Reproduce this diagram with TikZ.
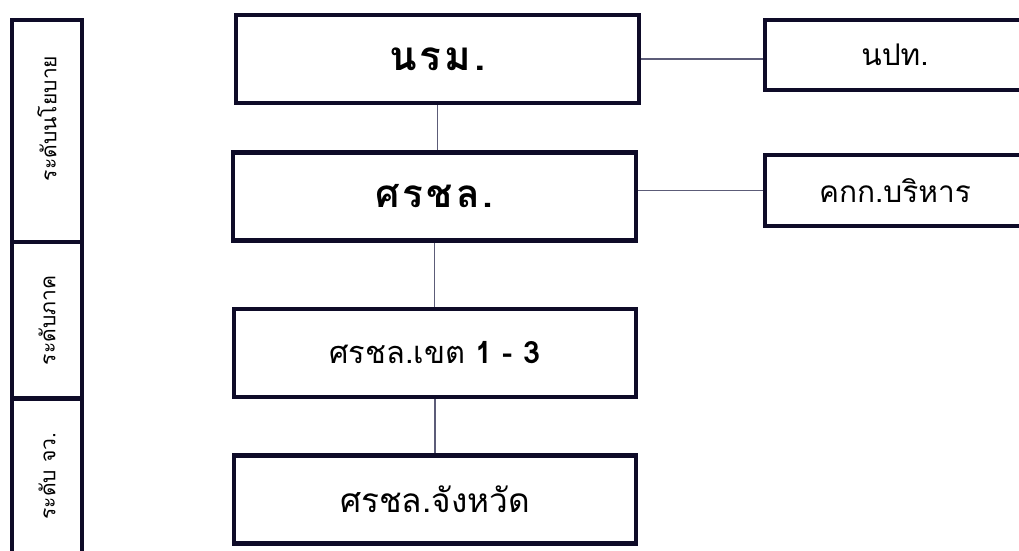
\documentclass[tikz,border=0pt]{standalone}
\usepackage{fontspec}
\newfontfamily\thaifont[Script=Thai]{Loma}
\newfontfamily\thaiwide[Script=Thai,LetterSpace=8]{Loma}
\definecolor{boxline}{HTML}{0E0B28}
\definecolor{linkline}{HTML}{5C5C78}

\begin{document}
\begin{tikzpicture}[x=0.02cm,y=-0.02cm,
  unit/.style={draw=boxline,line width=2.3pt,fill=white,minimum width=8.06cm,minimum height=1.76cm,inner sep=0pt},
  side/.style={draw=boxline,line width=2.3pt,fill=white,minimum width=5.2cm,minimum height=1.41cm,inner sep=0pt,font=\thaifont\fontsize{17}{20}\selectfont},
  level/.style={draw=boxline,line width=2.3pt,rotate=90,minimum height=1.4cm,inner sep=0pt,font=\thaifont\fontsize{12}{15}\selectfont},
  link/.style={draw=linkline,line width=0.6pt}]
\useasboundingbox (0,0) rectangle (1019,551);
\clip (0,0) rectangle (1019,551);
\fill[white] (0,0) rectangle (1019,551);

% levels
\node[level,minimum width=4.44cm] (policy) at (47,131) {\hspace*{0.5cm}ระดับนโยบาย};
\node[level,minimum width=3.14cm] (region) at (47,320.5) {ระดับภาค};
\node[level,minimum width=3.1cm] (province) at (47,476) {ระดับ จว.};

% main chain
\node[unit,font=\thaiwide\bfseries\fontsize{23}{28}\selectfont] (nrm) at (437.5,59) {นรม.};
\node[unit,font=\thaiwide\bfseries\fontsize{22}{27}\selectfont] (srchl) at (434.5,196.5) {ศรชล.};
\node[unit,font=\thaifont\fontsize{17.5}{21}\selectfont] (khet) at (435,353) {ศรชล.เขต \textbf{1 - 3}};
\node[unit,font=\thaifont\fontsize{19}{23}\selectfont] (changwat) at (435,499.5) {ศรชล.จังหวัด};

% side boxes
\node[side] (npt) at (895,55) {นปท.};
\node[side] (kkk) at (895,190.5) {คกก.บริหาร};

\draw[link] (nrm.south) -- (nrm.south |- srchl.north);
\draw[link] (srchl.south) -- (srchl.south |- khet.north);
\draw[link] (khet.south) -- (khet.south |- changwat.north);
\draw[link] (nrm.east) -- (nrm.east -| npt.west);
\draw[link] (kkk.west) -- (kkk.west -| srchl.east);
\end{tikzpicture}
\end{document}
